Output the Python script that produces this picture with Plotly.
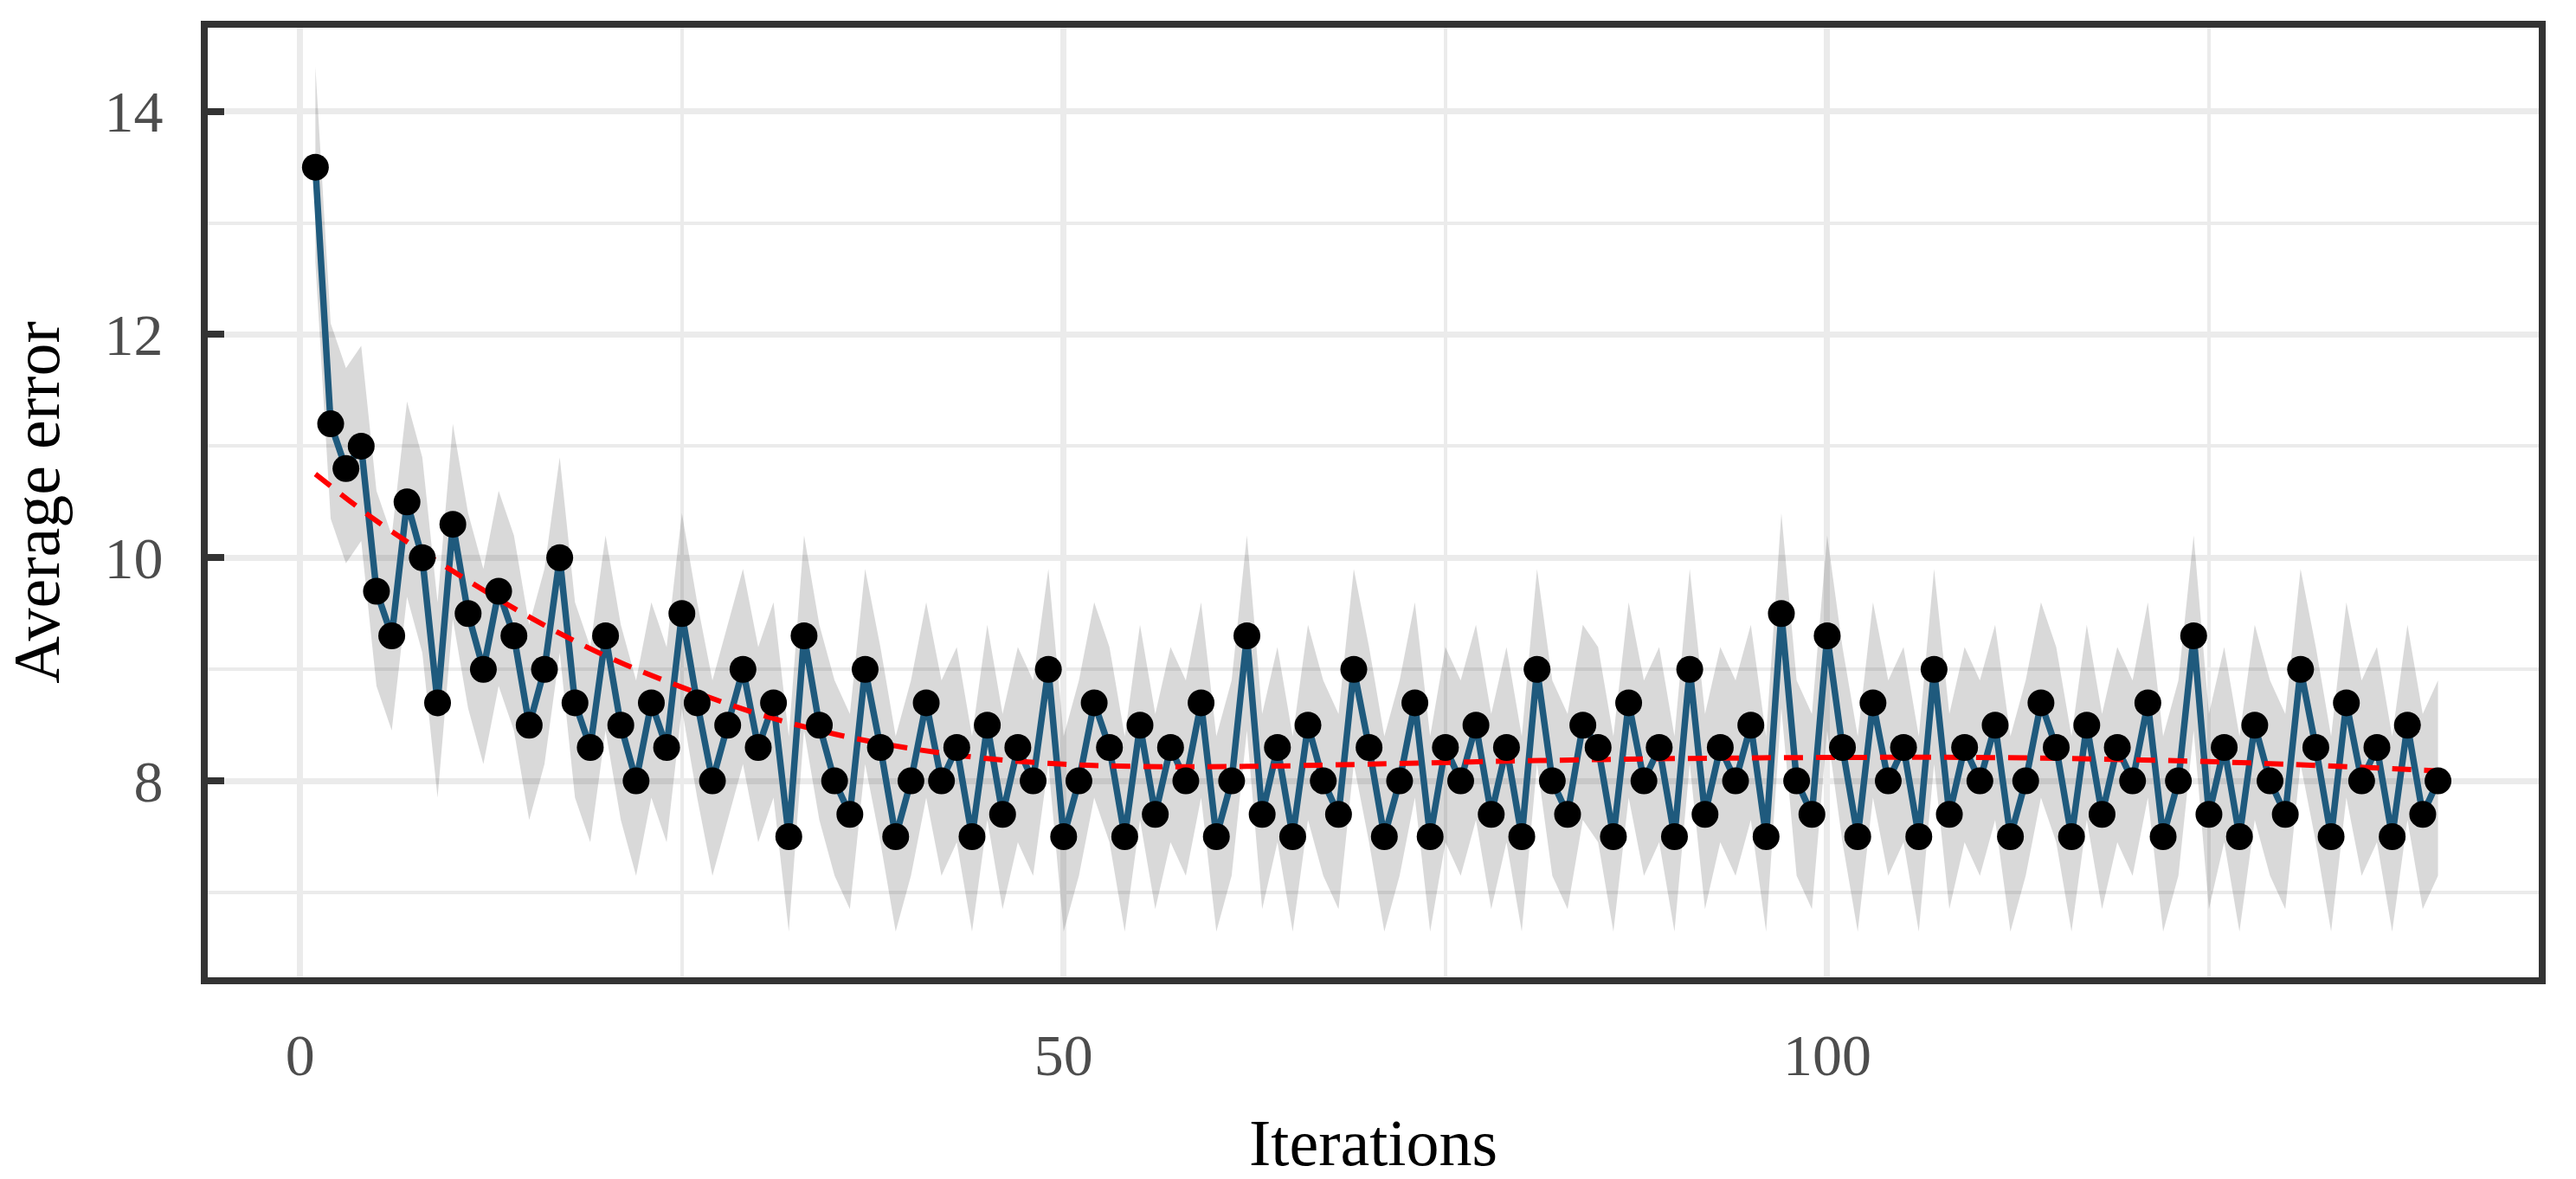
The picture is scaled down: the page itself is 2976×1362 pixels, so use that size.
import plotly.graph_objects as go

# values
iterations = list(range(1, 141))
avg_error = [
    13.5, 11.2, 10.8, 11.0, 9.7, 9.3, 10.5, 10.0, 8.7, 10.3,
    9.5, 9.0, 9.7, 9.3, 8.5, 9.0, 10.0, 8.7, 8.3, 9.3,
    8.5, 8.0, 8.7, 8.3, 9.5, 8.7, 8.0, 8.5, 9.0, 8.3,
    8.7, 7.5, 9.3, 8.5, 8.0, 7.7, 9.0, 8.3, 7.5, 8.0,
    8.7, 8.0, 8.3, 7.5, 8.5, 7.7, 8.3, 8.0, 9.0, 7.5,
    8.0, 8.7, 8.3, 7.5, 8.5, 7.7, 8.3, 8.0, 8.7, 7.5,
    8.0, 9.3, 7.7, 8.3, 7.5, 8.5, 8.0, 7.7, 9.0, 8.3,
    7.5, 8.0, 8.7, 7.5, 8.3, 8.0, 8.5, 7.7, 8.3, 7.5,
    9.0, 8.0, 7.7, 8.5, 8.3, 7.5, 8.7, 8.0, 8.3, 7.5,
    9.0, 7.7, 8.3, 8.0, 8.5, 7.5, 9.5, 8.0, 7.7, 9.3,
    8.3, 7.5, 8.7, 8.0, 8.3, 7.5, 9.0, 7.7, 8.3, 8.0,
    8.5, 7.5, 8.0, 8.7, 8.3, 7.5, 8.5, 7.7, 8.3, 8.0,
    8.7, 7.5, 8.0, 9.3, 7.7, 8.3, 7.5, 8.5, 8.0, 7.7,
    9.0, 8.3, 7.5, 8.7, 8.0, 8.3, 7.5, 8.5, 7.7, 8.0,
]
band_up = 0.9
band_down = 0.85

trend_x = [1, 5, 10, 15, 20, 25, 30, 35, 40, 45, 50, 55, 62, 70, 80, 90, 100, 110, 120, 130, 140]
trend_y = [10.75, 10.33, 9.88, 9.47, 9.12, 8.84, 8.6, 8.42, 8.29, 8.2, 8.15, 8.13, 8.13, 8.15,
           8.18, 8.2, 8.21, 8.21, 8.19, 8.15, 8.09]

upper = [v + band_up for v in avg_error]
lower = [v - band_down for v in avg_error]

fig = go.Figure()

# ribbon
fig.add_trace(go.Scatter(
    x=iterations + iterations[::-1],
    y=upper + lower[::-1],
    fill="toself", fillcolor="rgba(0,0,0,0.15)",
    line=dict(width=0), mode="lines", hoverinfo="skip", showlegend=False,
))
# main line
fig.add_trace(go.Scatter(
    x=iterations, y=avg_error, mode="lines",
    line=dict(color="#1F5A7D", width=7.5), showlegend=False,
))
# smooth trend
fig.add_trace(go.Scatter(
    x=trend_x, y=trend_y, mode="lines",
    line=dict(color="#FF0000", width=6, dash="22px,15px", shape="spline"),
    showlegend=False,
))
# points
fig.add_trace(go.Scatter(
    x=iterations, y=avg_error, mode="markers",
    marker=dict(color="black", size=31), showlegend=False,
))

axis_common = dict(
    showline=True, mirror=True, linecolor="#333333", linewidth=8,
    gridcolor="#EBEBEB", gridwidth=7, zeroline=False,
    tickfont=dict(family="Liberation Serif", size=68, color="#4D4D4D"),
)

fig.update_xaxes(
    range=[-6.05, 146.6], tickvals=[0, 50, 100], ticks="",
    minor=dict(tickvals=[25, 75, 125], showgrid=True, gridcolor="#EBEBEB", gridwidth=4),
    ticklabelstandoff=23,
    title=dict(text="Iterations", font=dict(family="Liberation Serif", size=76, color="black"),
               standoff=40),
    **axis_common,
)
fig.update_yaxes(
    range=[6.24, 14.75], tickvals=[8, 10, 12, 14],
    ticks="inside", ticklen=19, tickwidth=8, tickcolor="#333333",
    minor=dict(tickvals=[7, 9, 11, 13], showgrid=True, gridcolor="#EBEBEB", gridwidth=4),
    ticklabelstandoff=30,
    title=dict(text="Average error", font=dict(family="Liberation Serif", size=76, color="black"),
               standoff=55),
    **axis_common,
)

fig.update_layout(
    width=2976, height=1362,
    margin=dict(l=228, r=43, t=32, b=213),
    plot_bgcolor="white", paper_bgcolor="white",
)

fig.write_html("out.html", config={"displayModeBar": False},
               post_script="document.body.style.margin='0';")
